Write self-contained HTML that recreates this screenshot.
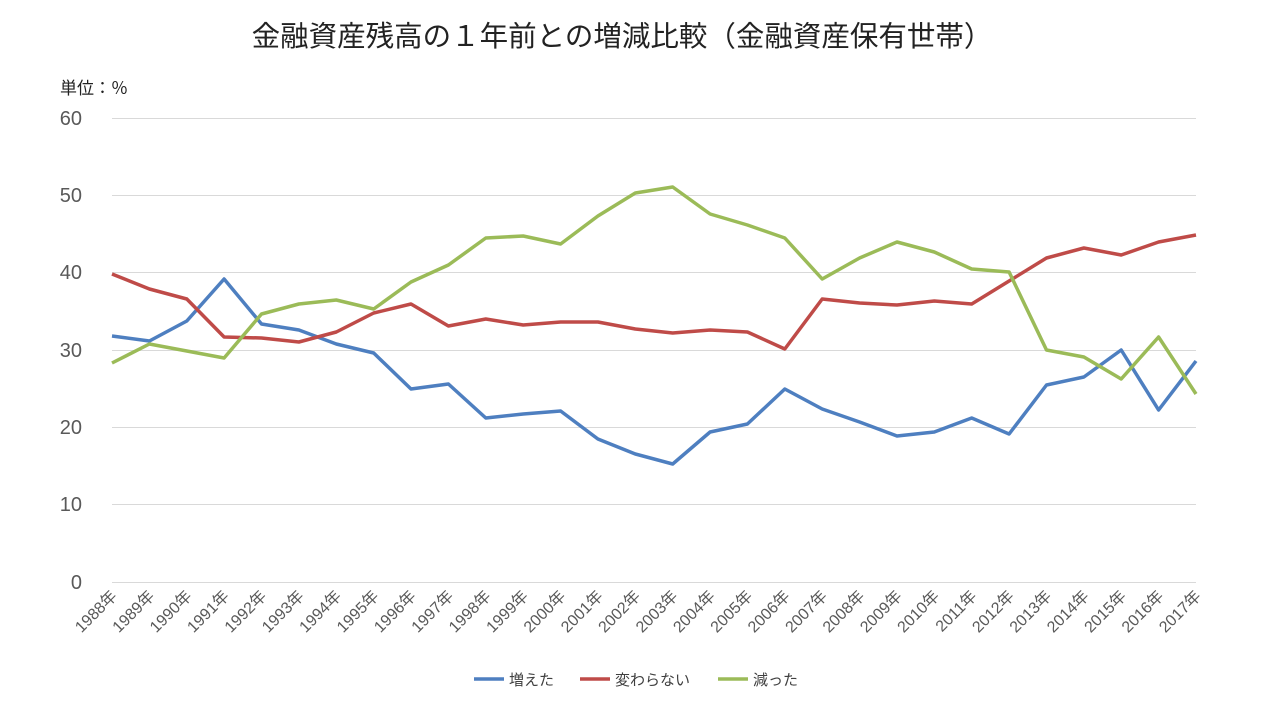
<!DOCTYPE html>
<html><head><meta charset="utf-8"><style>
body{margin:0;background:#fff;}
svg text{font-family:"Liberation Sans","Noto Sans CJK JP",sans-serif;}
</style></head><body>
<svg width="1261" height="718" xmlns="http://www.w3.org/2000/svg">
<rect width="1261" height="718" fill="#fff"/>
<text x="622" y="46" font-size="28.5" text-anchor="middle" fill="#222">金融資産残高の１年前との増減比較（金融資産保有世帯）</text>
<text x="60" y="94" font-size="17" fill="#222">単位：％</text>
<g stroke="#d9d9d9" stroke-width="1">
<line x1="112" y1="118.5" x2="1196" y2="118.5"/>
<line x1="112" y1="195.5" x2="1196" y2="195.5"/>
<line x1="112" y1="272.5" x2="1196" y2="272.5"/>
<line x1="112" y1="350.5" x2="1196" y2="350.5"/>
<line x1="112" y1="427.5" x2="1196" y2="427.5"/>
<line x1="112" y1="504.5" x2="1196" y2="504.5"/>
<line x1="112" y1="582.5" x2="1196" y2="582.5"/>
</g>
<g font-size="20" fill="#595959" text-anchor="end">
<text x="82" y="125">60</text><text x="82" y="202">50</text><text x="82" y="279">40</text>
<text x="82" y="357">30</text><text x="82" y="434">20</text><text x="82" y="511">10</text><text x="82" y="589">0</text>
</g>
<g font-size="16" fill="#595959" text-anchor="end">
<text x="118.0" y="597" transform="rotate(-45 118.0 597)">1988年</text>
<text x="155.4" y="597" transform="rotate(-45 155.4 597)">1989年</text>
<text x="192.8" y="597" transform="rotate(-45 192.8 597)">1990年</text>
<text x="230.1" y="597" transform="rotate(-45 230.1 597)">1991年</text>
<text x="267.5" y="597" transform="rotate(-45 267.5 597)">1992年</text>
<text x="304.9" y="597" transform="rotate(-45 304.9 597)">1993年</text>
<text x="342.3" y="597" transform="rotate(-45 342.3 597)">1994年</text>
<text x="379.7" y="597" transform="rotate(-45 379.7 597)">1995年</text>
<text x="417.0" y="597" transform="rotate(-45 417.0 597)">1996年</text>
<text x="454.4" y="597" transform="rotate(-45 454.4 597)">1997年</text>
<text x="491.8" y="597" transform="rotate(-45 491.8 597)">1998年</text>
<text x="529.2" y="597" transform="rotate(-45 529.2 597)">1999年</text>
<text x="566.6" y="597" transform="rotate(-45 566.6 597)">2000年</text>
<text x="603.9" y="597" transform="rotate(-45 603.9 597)">2001年</text>
<text x="641.3" y="597" transform="rotate(-45 641.3 597)">2002年</text>
<text x="678.7" y="597" transform="rotate(-45 678.7 597)">2003年</text>
<text x="716.1" y="597" transform="rotate(-45 716.1 597)">2004年</text>
<text x="753.4" y="597" transform="rotate(-45 753.4 597)">2005年</text>
<text x="790.8" y="597" transform="rotate(-45 790.8 597)">2006年</text>
<text x="828.2" y="597" transform="rotate(-45 828.2 597)">2007年</text>
<text x="865.6" y="597" transform="rotate(-45 865.6 597)">2008年</text>
<text x="903.0" y="597" transform="rotate(-45 903.0 597)">2009年</text>
<text x="940.3" y="597" transform="rotate(-45 940.3 597)">2010年</text>
<text x="977.7" y="597" transform="rotate(-45 977.7 597)">2011年</text>
<text x="1015.1" y="597" transform="rotate(-45 1015.1 597)">2012年</text>
<text x="1052.5" y="597" transform="rotate(-45 1052.5 597)">2013年</text>
<text x="1089.9" y="597" transform="rotate(-45 1089.9 597)">2014年</text>
<text x="1127.2" y="597" transform="rotate(-45 1127.2 597)">2015年</text>
<text x="1164.6" y="597" transform="rotate(-45 1164.6 597)">2016年</text>
<text x="1202.0" y="597" transform="rotate(-45 1202.0 597)">2017年</text>
</g>
<polyline id="b" fill="none" stroke="#4e7fc0" stroke-width="3.5" stroke-linejoin="round"/>
<polyline id="r" fill="none" stroke="#bf4b48" stroke-width="3.5" stroke-linejoin="round"/>
<polyline id="g" fill="none" stroke="#9bbb58" stroke-width="3.5" stroke-linejoin="round"/>
<g font-size="15" fill="#404040">
<line x1="474" y1="679" x2="504" y2="679" stroke="#4e7fc0" stroke-width="3.5"/><text x="509" y="685">増えた</text>
<line x1="580" y1="679" x2="610" y2="679" stroke="#bf4b48" stroke-width="3.5"/><text x="615" y="685">変わらない</text>
<line x1="718" y1="679" x2="748" y2="679" stroke="#9bbb58" stroke-width="3.5"/><text x="753" y="685">減った</text>
</g>
<script>
var B=[336,341,321,279,324,330,344,353,389,384,418,414,411,439,454,464,432,424,389,409,422,436,432,418,434,385,377,350,410,361];
var R=[274,289,299,337,338,342,332,313,304,326,319,325,322,322,329,333,330,332,349,299,303,305,301,304,281,258,248,255,242,235];
var G=[363,344,351,358,314,304,300,309,282,265,238,236,244,216,193,187,214,225,238,279,258,242,252,269,272,350,357,379,337,394];
function pts(a){return a.map(function(y,i){return (112+i*1084/29).toFixed(1)+","+y}).join(" ");}
document.getElementById("b").setAttribute("points",pts(B));
document.getElementById("r").setAttribute("points",pts(R));
document.getElementById("g").setAttribute("points",pts(G));
</script>
</svg>
</body></html>
